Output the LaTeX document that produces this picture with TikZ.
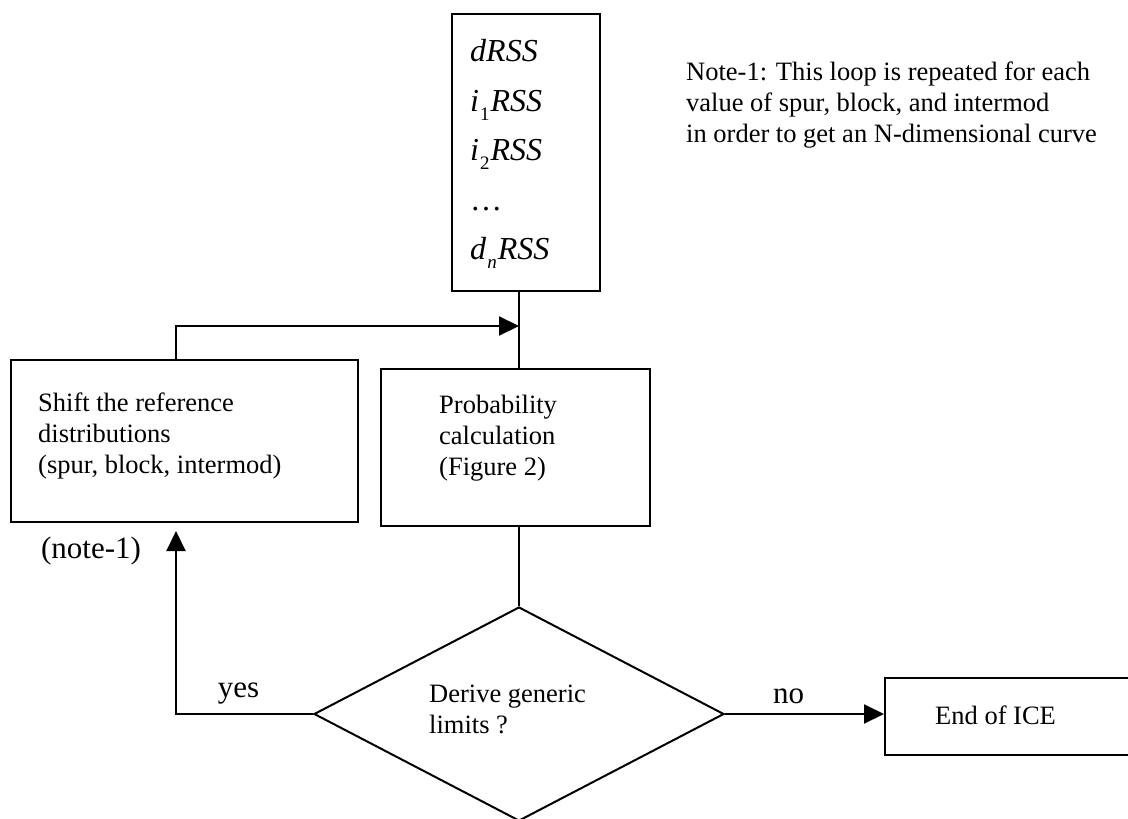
\documentclass[tikz,border=0pt]{standalone}
\usepackage{fontspec}
\setmainfont{Liberation Serif}
\usetikzlibrary{shapes.geometric,arrows.meta}
% lowered subscript index for the RSS list
\newcommand\lowidx[1]{\raisebox{-0.6ex}{\fontsize{19}{19}\selectfont #1}}
\begin{document}
\begin{tikzpicture}[x=1pt,y=-1pt,
  box/.style={draw, line width=2pt, rectangle, inner sep=0pt},
  decision/.style={draw, line width=2pt, diamond, inner sep=0pt},
  txt/.style={font=\fontsize{26.5}{31}\selectfont, align=left, inner sep=0pt, anchor=west},
  lbl/.style={font=\fontsize{31}{31}\selectfont, inner sep=0pt, anchor=base},
  link/.style={line width=2pt},
  arr/.style={line width=2pt, -{Triangle[length=20pt,width=19pt]}},
]
\clip (0,0) rectangle (1128,819);
\fill[white] (0,0) rectangle (1128,819);

% signal list
\node[box, minimum width=148pt, minimum height=277pt] (rss) at (526,152.5) {};
\node[inner sep=0pt, anchor=west, align=left, font=\fontsize{32}{49.5}\selectfont] (rsstext) at (470,154)
  {\textit{dRSS}\\
   \textit{i}\kern1pt\lowidx{1}\kern1pt\textit{RSS}\\
   \textit{i}\kern1pt\lowidx{2}\kern1pt\textit{RSS}\\
   …\\
   \textit{d}\kern1pt\lowidx{\textit{n}}\kern1pt\textit{RSS}};

% process boxes
\node[box, minimum width=347pt, minimum height=162pt] (shift) at (184.5,441) {};
\node[txt] (shifttext) at (38,436) {Shift the reference\\distributions\\(spur, block, intermod)};

\node[box, minimum width=269pt, minimum height=157pt] (prob) at (515.5,447.5) {};
\node[txt] (probtext) at (439,438) {Probability\\calculation\\(Figure 2)};

\node[decision, minimum width=410pt, minimum height=214pt] (dec) at (519,714) {};
\node[txt] (dectext) at (429,709) {Derive generic\\limits ?};

\node[box, minimum width=255pt, minimum height=77pt] (end) at (1012.5,716.5) {};
\node[txt] (endtext) at (935,715) {End of ICE};

% note
\node[txt] (note) at (686,105) {Note-1: This loop is repeated for each\\value of spur, block, and intermod\\in order to get an N-dimensional curve};

% labels
\node[lbl] (notelbl) at (91,558) {(note-1)};
\node[lbl] (yeslbl) at (238.5,697) {yes};
\node[lbl] (nolbl) at (788.5,703) {no};

% helper coordinates
\coordinate (spine) at (519,0);
\coordinate (loopx) at (176,0);
\coordinate (join) at (519,326);
\coordinate (yestip) at (176,531);

% connectors
\draw[link] (rss.south -| spine) -- (prob.north -| spine);
\draw[link] (prob.south -| spine) -- (dec.north);
\draw[arr] (shift.north -| loopx) |- (join);
\draw[arr] (dec.west) -| (yestip);
\draw[arr] (dec.east) -- (dec.east -| end.west);
\end{tikzpicture}
\end{document}
